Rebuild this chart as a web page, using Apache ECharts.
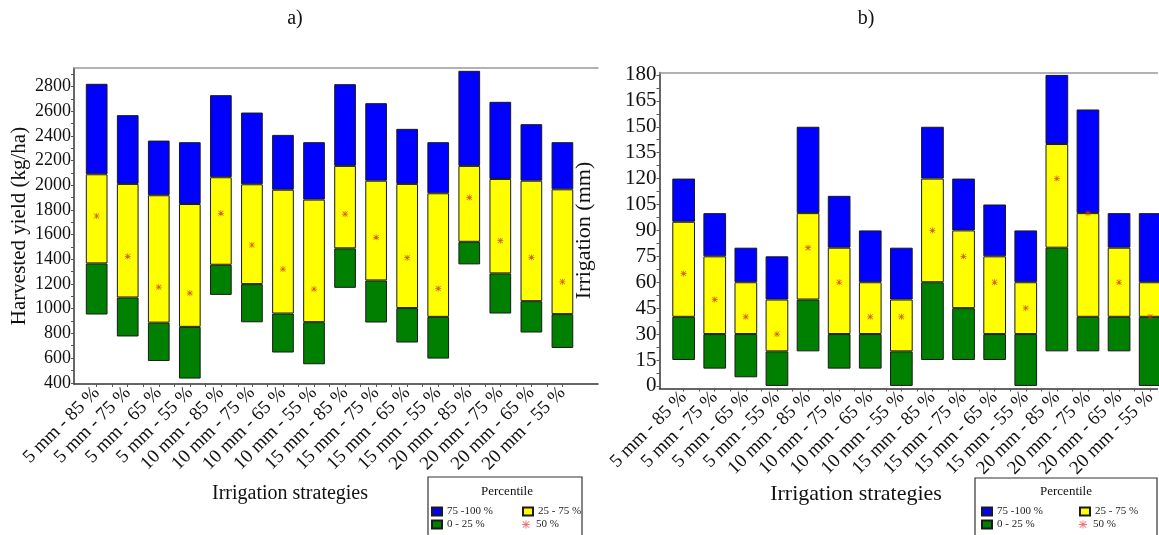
<!DOCTYPE html>
<html>
<head>
<meta charset="utf-8">
<script src="https://cdn.jsdelivr.net/npm/echarts@6/dist/echarts.min.js"></script>
<style>
html, body { margin: 0; padding: 0; background: #fff; }
#main { width: 1159px; height: 535px; }
</style>
</head>
<body>
<div id="main"></div>
<script>
var strategies = ['5 mm - 85 %', '5 mm - 75 %', '5 mm - 65 %', '5 mm - 55 %',
    '10 mm - 85 %', '10 mm - 75 %', '10 mm - 65 %', '10 mm - 55 %',
    '15 mm - 85 %', '15 mm - 75 %', '15 mm - 65 %', '15 mm - 55 %',
    '20 mm - 85 %', '20 mm - 75 %', '20 mm - 65 %', '20 mm - 55 %']

// a) harvested yield (kg/ha)
var yieldMin = [953, 775, 576, 434, 1112, 890, 645, 550, 1169, 888, 726, 596, 1359, 961, 807, 682]
var yieldP25 = [1367, 1091, 887, 853, 1356, 1199, 961, 891, 1489, 1229, 1005, 934, 1542, 1286, 1061, 956]
var yieldP50 = [1751, 1424, 1175, 1126, 1773, 1516, 1321, 1159, 1767, 1578, 1413, 1164, 1900, 1551, 1416, 1218]
var yieldP75 = [2089, 2011, 1919, 1848, 2065, 2008, 1964, 1884, 2157, 2037, 2011, 1935, 2157, 2051, 2037, 1967]
var yieldMax = [2822, 2568, 2362, 2349, 2730, 2589, 2408, 2349, 2819, 2665, 2457, 2349, 2927, 2676, 2495, 2349]

// b) irrigation (mm)
var irrMin = [15, 10, 5, 0, 20, 10, 10, 0, 15, 15, 15, 0, 20, 20, 20, 0]
var irrP25 = [40, 30, 30, 20, 50, 30, 30, 20, 60, 45, 30, 30, 80, 40, 40, 40]
var irrP50 = [65, 50, 40, 30, 80, 60, 40, 40, 90, 75, 60, 45, 120, 100, 60, 40]
var irrP75 = [95, 75, 60, 50, 100, 80, 60, 50, 120, 90, 75, 60, 140, 100, 80, 60]
var irrMax = [120, 100, 80, 75, 150, 110, 90, 80, 150, 120, 105, 90, 180, 160, 100, 100]

var yieldLabels = [400, 600, 800, 1000, 1200, 1400, 1600, 1800, 2000, 2200, 2400, 2600, 2800]
var irrLabels = [0, 15, 30, 45, 60, 75, 90, 105, 120, 135, 150, 165, 180]

var legendNames = ['75 -100 %', '25 - 75 %', '0 - 25 %', '50 %']

var serif = "'Liberation Serif', 'Times New Roman', serif"
var asterisk = 'path://M4.4,0h1.2v10h-1.2z M0,4.4h10v1.2h-10z M1.3,0.5L9.5,8.7L8.7,9.5L0.5,1.3z M8.7,0.5L9.5,1.3L1.3,9.5L0.5,8.7z'

// minor ticks
var yieldTicks = []
for (var t = 400; t <= 2900; t += 100) yieldTicks.push(t)
var irrTicks = []
for (var t2 = 0; t2 <= 180; t2 += 7.5) irrTicks.push(t2)
var catIdx = strategies.map(function (s, i) { return i })
var catTicks = []
for (var t3 = 0; t3 <= 15; t3 += 0.5) catTicks.push(t3)

// value first, index second: the stack then runs on the y values
function pairs(arr) {
    return arr.map(function (v, i) { return [v, i] })
}
function diff(hi, lo) {
    return hi.map(function (v, i) { return [v - lo[i], i] })
}

function boxSeries(gi, mins, p25, p50, p75, maxs, barW) {
    var common = {
        type: 'bar', xAxisIndex: gi * 2, yAxisIndex: gi, stack: 'box' + gi,
        barWidth: barW, encode: { x: 1, y: 0 }
    }
    return [
        Object.assign({ name: 'base' + gi, silent: true, itemStyle: { color: 'transparent', borderWidth: 0 }, data: pairs(mins) }, common),
        Object.assign({ name: '0 - 25 %', itemStyle: { color: '#008000', borderColor: '#1a1a1a', borderWidth: 1 }, data: diff(p25, mins) }, common),
        Object.assign({ name: '25 - 75 %', itemStyle: { color: '#ffff00', borderColor: '#1a1a1a', borderWidth: 1 }, data: diff(p75, p25) }, common),
        Object.assign({ name: '75 -100 %', itemStyle: { color: '#0000ff', borderColor: '#1a1a1a', borderWidth: 1 }, data: diff(maxs, p75) }, common),
        {
            name: '50 %', type: 'scatter', xAxisIndex: gi * 2, yAxisIndex: gi,
            symbol: asterisk, symbolSize: 6, z: 5, encode: { x: 1, y: 0 },
            itemStyle: { color: '#c8361a' },
            data: pairs(p50)
        }
    ]
}

function catAxis(gi, min, max, fontSize) {
    return [{
        type: 'value', gridIndex: gi, min: min, max: max, position: 'bottom',
        splitLine: { show: false },
        axisLine: { onZero: false, lineStyle: { color: '#333', width: 1.5 } },
        axisTick: { show: true, customValues: catTicks, length: 3, lineStyle: { color: '#555' } },
        axisLabel: {
            customValues: catIdx, rotate: 45, margin: 6,
            fontFamily: serif, fontSize: fontSize, color: '#111',
            formatter: function (v) { return strategies[Math.round(v)] }
        }
    }, {
        type: 'value', gridIndex: gi, min: min, max: max, position: 'top',
        splitLine: { show: false }, axisTick: { show: false }, axisLabel: { show: false },
        axisLine: { show: true, onZero: false, lineStyle: { color: '#999', width: 1.5 } }
    }]
}

function valAxis(gi, min, max, labels, ticks, name, nameGap, fontSize, nameSize) {
    return {
        type: 'value', gridIndex: gi, min: min, max: max,
        name: name, nameLocation: 'middle', nameGap: nameGap, nameMoveOverlap: false,
        nameTextStyle: { fontFamily: serif, fontSize: nameSize, color: '#111' },
        splitLine: { show: false },
        axisLine: { show: true, onZero: false, lineStyle: { color: '#333', width: 1.5 } },
        axisTick: { show: true, customValues: ticks, length: 3, lineStyle: { color: '#555' } },
        axisLabel: {
            customValues: labels, margin: 3, fontFamily: serif, fontSize: fontSize, color: '#111',
            formatter: function (v) { return String(v) }
        }
    }
}

function legendFor(left, textW) {
    return {
        left: left, top: 506, orient: 'horizontal', width: 200,
        itemGap: 2, itemWidth: 10, itemHeight: 8, padding: 0,
        textStyle: { fontFamily: serif, fontSize: 11, color: '#222', width: textW, lineHeight: 10 },
        data: [
            { name: legendNames[0], icon: 'rect' },
            { name: legendNames[1], icon: 'rect' },
            { name: legendNames[2], icon: 'rect' },
            { name: legendNames[3], icon: asterisk, itemStyle: { color: '#e8505a' } }
        ]
    }
}

function label(x, y, text, size) {
    return {
        type: 'text', x: x, y: y, silent: true,
        style: { text: text, fontFamily: serif, fontSize: size, fill: '#111', align: 'center', verticalAlign: 'middle' }
    }
}
function box(x, y, w, h) {
    return {
        type: 'rect', shape: { x: x, y: y, width: w, height: h }, silent: true,
        style: { fill: 'none', stroke: '#333', lineWidth: 1.2 }
    }
}

var chart = echarts.init(document.getElementById('main'))
chart.setOption({
    animation: false,
    grid: [
        { left: 74, top: 68, width: 524, height: 316 },
        { left: 659.5, top: 72.5, right: 0, height: 316 }
    ],
    xAxis: catAxis(0, -0.73, 16.146, 19).concat(catAxis(1, -0.776, 15.234, 19)),
    yAxis: [
        valAxis(0, 390, 2950, yieldLabels, yieldTicks, 'Harvested yield (kg/ha)', 44, 18, 21),
        valAxis(1, -1.5, 181.4, irrLabels, irrTicks, 'Irrigation (mm)', 64, 21, 22)
    ],
    legend: [legendFor(431, 73), legendFor(981, 80)],
    series: boxSeries(0, yieldMin, yieldP25, yieldP50, yieldP75, yieldMax, 21.7)
        .concat(boxSeries(1, irrMin, irrP25, irrP50, irrP75, irrMax, 22.7)),
    graphic: [
        label(295, 19, 'a)', 20),
        label(866, 19, 'b)', 20),
        label(290, 494, 'Irrigation strategies', 20),
        label(856, 494, 'Irrigation strategies', 22),
        box(428, 477, 154, 62),
        box(975, 478, 182, 60),
        label(507, 492, 'Percentile', 13),
        label(1066, 492, 'Percentile', 13)
    ]
})
</script>
</body>
</html>
